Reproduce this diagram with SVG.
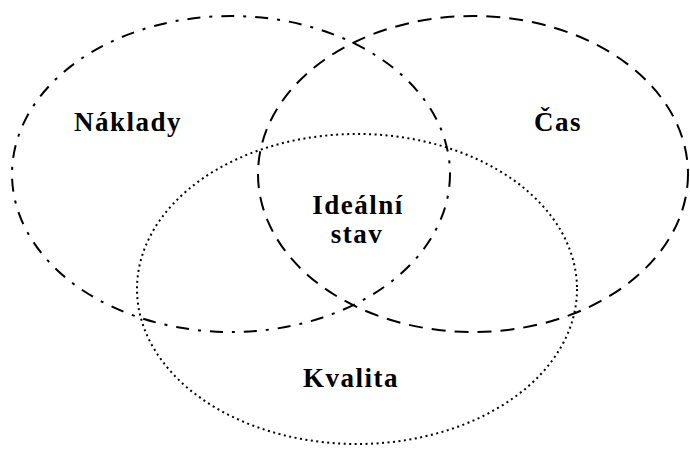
<svg xmlns="http://www.w3.org/2000/svg" width="690" height="450" viewBox="0 0 690 450">
<style>
.e{fill:none;stroke:#000;stroke-width:2}
.dd{stroke-dasharray:13 9 3 9}
.da{stroke-dasharray:14 9}
.dt{stroke-dasharray:2 3.5}
text{font-family:"Liberation Serif","Times New Roman",serif;font-weight:bold;font-size:27px;letter-spacing:1.5px;fill:#000;text-anchor:middle}
</style>
<rect width="690" height="450" fill="#fff"/>
<g id="connectors"></g>
<g id="naklady">
<ellipse class="e dd" cx="231" cy="174" rx="219" ry="158"/>
<text x="128" y="131">Náklady</text>
</g>
<g id="cas">
<ellipse class="e da" cx="473" cy="174" rx="215" ry="158"/>
<text x="558" y="131">Čas</text>
</g>
<g id="kvalita">
<ellipse class="e dt" cx="357" cy="289" rx="220" ry="155"/>
<text x="351" y="387">Kvalita</text>
</g>
<g id="idealni">
<text x="358" y="214">Ideální</text>
<text x="357" y="243">stav</text>
</g>
</svg>
